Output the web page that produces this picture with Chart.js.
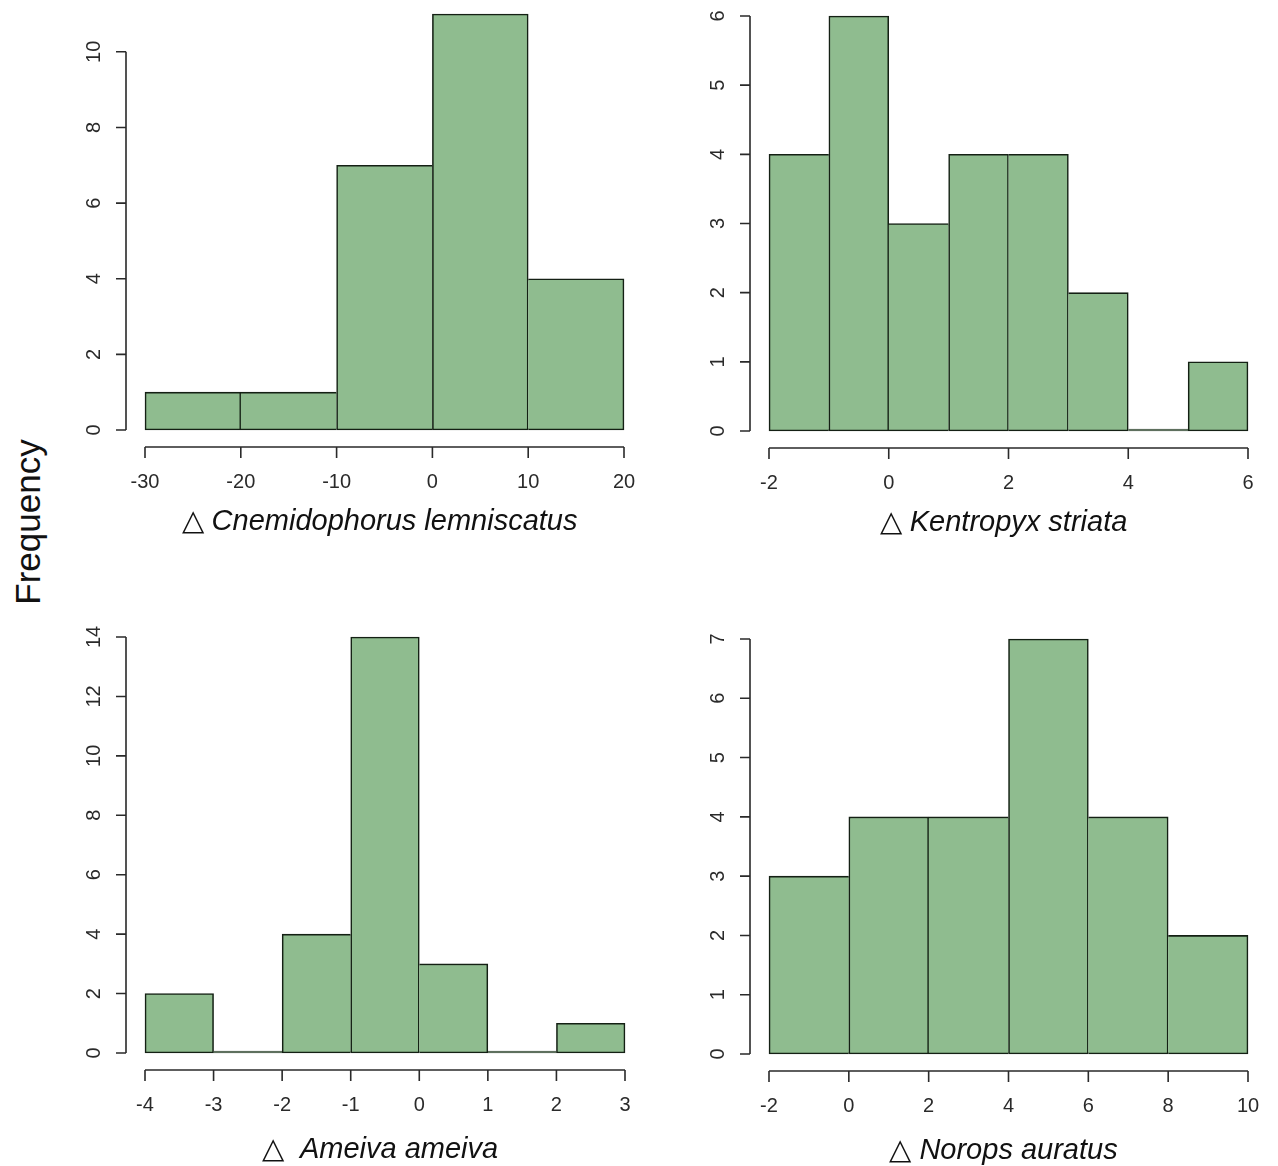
<!DOCTYPE html>
<html>
<head>
<meta charset="utf-8">
<script src="https://cdn.jsdelivr.net/npm/chart.js@4.4.0/dist/chart.umd.min.js"></script>
<style>
  body { margin: 0; background: #fff; width: 1278px; height: 1166px; position: relative; overflow: hidden; }
  canvas { position: absolute; }
  #ylab {
    position: absolute; left: 28px; top: 522px;
    transform: translate(-50%, -50%) rotate(-90deg);
    font-family: "Liberation Sans", Arial, sans-serif; font-size: 35px; color: #111; white-space: nowrap;
  }
</style>
</head>
<body>
<canvas id="c1" style="left:60px;top:0px" width="600" height="560"></canvas>
<canvas id="c2" style="left:680px;top:0px" width="598" height="560"></canvas>
<canvas id="c3" style="left:60px;top:600px" width="600" height="566"></canvas>
<canvas id="c4" style="left:680px;top:600px" width="598" height="566"></canvas>
<div id="ylab">Frequency</div>
<script>
// bin edges and counts for each species
const cnemEdges = [-30, -20, -10, 0, 10, 20];
const cnemCounts = [1, 1, 7, 11, 4];
const cnemXTicks = [-30, -20, -10, 0, 10, 20];
const cnemYTicks = [0, 2, 4, 6, 8, 10];

const kentEdges = [-2, -1, 0, 1, 2, 3, 4, 5, 6];
const kentCounts = [4, 6, 3, 4, 4, 2, 0, 1];
const kentXTicks = [-2, 0, 2, 4, 6];
const kentYTicks = [0, 1, 2, 3, 4, 5, 6];

const ameiEdges = [-4, -3, -2, -1, 0, 1, 2, 3];
const ameiCounts = [2, 0, 4, 14, 3, 0, 1];
const ameiXTicks = [-4, -3, -2, -1, 0, 1, 2, 3];
const ameiYTicks = [0, 2, 4, 6, 8, 10, 12, 14];

const noroEdges = [-2, 0, 2, 4, 6, 8, 10];
const noroCounts = [3, 4, 4, 7, 4, 2];
const noroXTicks = [-2, 0, 2, 4, 6, 8, 10];
const noroYTicks = [0, 1, 2, 3, 4, 5, 6, 7];

const titles = ['Cnemidophorus lemniscatus', 'Kentropyx striata', 'Ameiva ameiva', 'Norops auratus'];

const FONT = '"Liberation Sans", Arial, sans-serif';

// R-like axes: line only between first and last tick, set off from the bars
const rAxes = {
  id: 'rAxes',
  afterDraw(chart, args, opts) {
    const { ctx, chartArea, scales: { x, y } } = chart;
    const xt = opts.xTicks, yt = opts.yTicks;
    ctx.save();
    ctx.strokeStyle = '#2a2a2a';
    ctx.fillStyle = '#2a2a2a';
    ctx.lineWidth = 1.6;

    const ay = chartArea.bottom + 17;
    ctx.beginPath();
    ctx.moveTo(x.getPixelForValue(xt[0]), ay);
    ctx.lineTo(x.getPixelForValue(xt[xt.length - 1]), ay);
    xt.forEach(v => {
      const px = x.getPixelForValue(v);
      ctx.moveTo(px, ay);
      ctx.lineTo(px, ay + 11);
    });
    const ax = chartArea.left - 19;
    ctx.moveTo(ax, y.getPixelForValue(yt[0]));
    ctx.lineTo(ax, y.getPixelForValue(yt[yt.length - 1]));
    yt.forEach(v => {
      const py = y.getPixelForValue(v);
      ctx.moveTo(ax, py);
      ctx.lineTo(ax - 10, py);
    });
    ctx.stroke();

    ctx.font = '20px ' + FONT;
    ctx.textAlign = 'center';
    ctx.textBaseline = 'middle';
    xt.forEach(v => ctx.fillText(String(v), x.getPixelForValue(v), chartArea.bottom + 52));
    yt.forEach(v => {
      ctx.save();
      ctx.translate(ax - 32, y.getPixelForValue(v));
      ctx.rotate(-Math.PI / 2);
      ctx.fillText(String(v), 0, 0);
      ctx.restore();
    });

    // title: upright triangle + italic species name
    ctx.fillStyle = '#111';
    const tri = '\u25B3' + opts.gap;
    ctx.font = '29px ' + FONT;
    const w1 = ctx.measureText(tri).width;
    ctx.font = 'italic 29px ' + FONT;
    const w2 = ctx.measureText(opts.title).width;
    const cx = (chartArea.left + chartArea.right) / 2 - 5;
    const start = cx - (w1 + w2) / 2;
    const ty = chartArea.bottom + opts.titleOffset;
    ctx.textAlign = 'left';
    ctx.font = '29px ' + FONT;
    ctx.fillText(tri, start, ty);
    ctx.font = 'italic 29px ' + FONT;
    ctx.fillText(opts.title, start + w1, ty);
    ctx.restore();
  }
};

function histChart(id, edges, counts, xTicks, yTicks, yMax, pad, title, gap, titleOffset) {
  const n = counts.length;
  const pts = counts.map((c, i) => ({ x: (edges[i] + edges[i + 1]) / 2, y: c }));
  const bw = 1.6;
  return new Chart(document.getElementById(id), {
    type: 'bar',
    data: {
      datasets: [{
        data: pts,
        backgroundColor: '#8fbc8f',
        borderColor: '#142014',
        borderSkipped: false,
        minBarLength: 2,
        clip: false,
        borderWidth: ctx => {
          const i = ctx.dataIndex;
          return {
            top: bw,
            bottom: bw,
            left: (i === 0 || counts[i - 1] < counts[i]) ? bw : 0,
            right: (i === n - 1 || counts[i + 1] <= counts[i]) ? bw : 0
          };
        },
        barPercentage: 1,
        categoryPercentage: 1
      }]
    },
    options: {
      responsive: false,
      animation: false,
      layout: { padding: pad },
      plugins: {
        legend: { display: false },
        tooltip: { enabled: false },
        rAxes: { xTicks: xTicks, yTicks: yTicks, title: title, gap: gap, titleOffset: titleOffset }
      },
      scales: {
        x: {
          type: 'linear', display: false, offset: false,
          min: edges[0], max: edges[edges.length - 1],
          afterBuildTicks: s => { s.ticks = xTicks.map(v => ({ value: v })); }
        },
        y: {
          display: false, min: 0, max: yMax,
          afterBuildTicks: s => { s.ticks = yTicks.map(v => ({ value: v })); }
        }
      }
    },
    plugins: [rAxes]
  });
}

histChart('c1', cnemEdges, cnemCounts, cnemXTicks, cnemYTicks, 11,
  { left: 85, right: 36, top: 14, bottom: 130 }, titles[0], ' ', 92);
histChart('c2', kentEdges, kentCounts, kentXTicks, kentYTicks, 6,
  { left: 89, right: 30, top: 16, bottom: 129 }, titles[1], ' ', 92);
histChart('c3', ameiEdges, ameiCounts, ameiXTicks, ameiYTicks, 14,
  { left: 85, right: 35, top: 37, bottom: 113 }, titles[2], '  ', 97);
histChart('c4', noroEdges, noroCounts, noroXTicks, noroYTicks, 7,
  { left: 89, right: 30, top: 39, bottom: 112 }, titles[3], ' ', 97);
</script>
</body>
</html>
